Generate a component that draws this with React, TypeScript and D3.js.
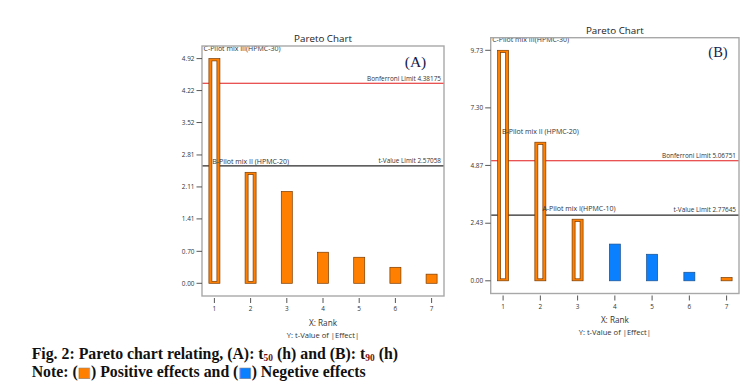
import React from "react";
import * as d3 from "d3";

const ranks = [1, 2, 3, 4, 5, 6, 7];

// (A) t50
const tValuesA = [4.92, 2.43, 2.01, 0.68, 0.57, 0.35, 0.2];
const signsA = ["+", "+", "+", "+", "+", "+", "+"];
const termLabelsA = ["C-Pilot mix III(HPMC-30)", "B-Pilot mix II (HPMC-20)", "", "", "", "", ""];
const yTicksA = [0, 0.7, 1.41, 2.11, 2.81, 3.52, 4.22, 4.92];
const bonferroniA = 4.38175;
const tLimitA = 2.57058;

// (B) t90
const tValuesB = [9.73, 5.85, 2.6, 1.55, 1.12, 0.36, 0.14];
const signsB = ["+", "+", "+", "-", "-", "-", "+"];
const termLabelsB = ["C-Pilot mix III(HPMC-30)", "B-Pilot mix II (HPMC-20)", "A-Pilot mix I(HPMC-10)", "", "", "", ""];
const yTicksB = [0, 2.43, 4.87, 7.3, 9.73];
const bonferroniB = 5.06751;
const tLimitB = 2.77645;

const ORANGE = "#ff8000";
const ORANGE_EDGE = "#7a3a00";
const BLUE = "#0a80ff";
const BLUE_EDGE = "#1c4f8c";
const SANS = "'Open Sans', 'Noto Sans', sans-serif";
const SERIF = "'Liberation Serif', 'DejaVu Serif', serif";

interface Frame {
  left: number;
  right: number;
  top: number;
  bottom: number;
}

interface PanelProps {
  frame: Frame;
  values: number[];
  signs: string[];
  labels: string[];
  yTicks: number[];
  bonferroni: number;
  tLimit: number;
  tag: string;
  tagSize: number;
  tagX: number;
  tagY: number;
}

const Pareto: React.FC<PanelProps> = ({
  frame,
  values,
  signs,
  labels,
  yTicks,
  bonferroni,
  tLimit,
  tag,
  tagSize,
  tagX,
  tagY,
}) => {
  const { left, right, top, bottom } = frame;
  const x = d3.scaleLinear().domain([1, 7]).range([left + 12.4, right - 12.4]);
  const y = d3
    .scaleLinear()
    .domain([0, d3.max(yTicks) ?? 1])
    .range([bottom - 12.7, top + 12.6]);
  const barW = 11;
  const cx = (left + right) / 2;

  return (
    <g>
      <text x={cx} y={top - 3.8} textAnchor="middle" fontSize={9.8} fill="#222" fontFamily={SANS}>
        Pareto Chart
      </text>

      {/* limit lines */}
      <line x1={left} x2={right} y1={y(bonferroni)} y2={y(bonferroni)} stroke="#e31a1a" strokeWidth={1.1} />
      <text x={right - 3} y={y(bonferroni) - 2.6} textAnchor="end" fontSize={6.4} fill="#333" fontFamily={SANS}>
        {`Bonferroni Limit ${bonferroni}`}
      </text>
      <line x1={left} x2={right} y1={y(tLimit)} y2={y(tLimit)} stroke="#2a2a2a" strokeWidth={1.2} />
      <text x={right - 3} y={y(tLimit) - 2.6} textAnchor="end" fontSize={6.4} fill="#333" fontFamily={SANS}>
        {`t-Value Limit ${tLimit}`}
      </text>

      {/* bars: terms kept in the model are drawn hollow */}
      {ranks.map((r, i) => {
        const v = values[i];
        const bx = x(r) - barW / 2;
        const by = y(v);
        const h = y(0) - by;
        const inModel = labels[i] !== "";
        const fill = signs[i] === "+" ? ORANGE : BLUE;
        const edge = signs[i] === "+" ? ORANGE_EDGE : BLUE_EDGE;
        return (
          <g key={`bar-${r}`}>
            <rect x={bx} y={by} width={barW} height={h} fill={fill} stroke={edge} strokeWidth={0.7} />
            {inModel && (
              <rect
                x={bx + 3}
                y={by + 2.3}
                width={barW - 6}
                height={h - 4.3}
                fill="#fff"
                stroke={edge}
                strokeWidth={0.7}
              />
            )}
          </g>
        );
      })}

      {/* term labels */}
      {ranks.map((r, i) => {
        const lbl = labels[i];
        if (!lbl) return null;
        const w = lbl.length * 3.2;
        const lx = Math.max(left + 1.5, x(r) - w / 2);
        return (
          <text key={`lbl-${r}`} x={lx} y={y(values[i]) - 8} fontSize={7} fill="#333" fontFamily={SANS}>
            {lbl}
          </text>
        );
      })}

      {/* frame */}
      <rect
        x={left}
        y={top}
        width={right - left}
        height={bottom - top}
        fill="none"
        stroke="#a8a8a8"
        strokeWidth={1.4}
      />

      {/* y axis */}
      {yTicks.map((t) => (
        <g key={`yt-${t}`}>
          <line x1={left - 5.5} x2={left} y1={y(t)} y2={y(t)} stroke="#444" strokeWidth={0.9} />
          <text
            x={left - 7.5}
            y={y(t) + 2.2}
            textAnchor="end"
            fontSize={6.4}
            fill="#333"
            fontFamily={SANS}
          >
            {t.toFixed(2)}
          </text>
        </g>
      ))}

      {/* x axis */}
      {ranks.map((r) => (
        <g key={`xt-${r}`}>
          <line x1={x(r)} x2={x(r)} y1={bottom + 2} y2={bottom + 7} stroke="#444" strokeWidth={0.9} />
          <text x={x(r)} y={bottom + 15} textAnchor="middle" fontSize={6.4} fill="#333" fontFamily={SANS}>
            {r}
          </text>
        </g>
      ))}
      <text x={cx} y={bottom + 29.5} textAnchor="middle" fontSize={8.2} fill="#333" fontFamily={SANS}>
        X: Rank
      </text>
      <text x={cx} y={bottom + 41.5} textAnchor="middle" fontSize={7.6} fill="#333" fontFamily={SANS}>
        Y: t-Value of |Effect|
      </text>

      <text x={tagX} y={tagY} textAnchor="middle" fontSize={tagSize} fill="#14204a" fontFamily={SERIF}>
        {tag}
      </text>
    </g>
  );
};

const App: React.FC = () => {
  const width = 753;
  const height = 389;
  return (
    <svg
      width={width}
      height={height}
      style={{ position: "absolute", left: 0, top: 0, background: "#fff" }}
    >
      <rect width={width} height={height} fill="#fff" />
      <Pareto
        frame={{ left: 202, right: 444, top: 46, bottom: 296 }}
        values={tValuesA}
        signs={signsA}
        labels={termLabelsA}
        yTicks={yTicksA}
        bonferroni={bonferroniA}
        tLimit={tLimitA}
        tag="(A)"
        tagSize={15.5}
        tagX={415.5}
        tagY={66.5}
      />
      <Pareto
        frame={{ left: 490.7, right: 739, top: 37.7, bottom: 293.5 }}
        values={tValuesB}
        signs={signsB}
        labels={termLabelsB}
        yTicks={yTicksB}
        bonferroni={bonferroniB}
        tLimit={tLimitB}
        tag="(B)"
        tagSize={14.5}
        tagX={718}
        tagY={57}
      />

      <text x={31.7} y={359} fontSize={15.8} fontWeight="bold" fill="#111" fontFamily={SERIF}>
        Fig. 2: Pareto chart relating, (A): t
        <tspan fontSize={9.5} dy={2.4} fill="#7a1010">50</tspan>
        <tspan dy={-2.4}> (h) and (B): t</tspan>
        <tspan fontSize={9.5} dy={2.4} fill="#7a1010">90</tspan>
        <tspan dy={-2.4}> (h)</tspan>
      </text>
      <text x={31.7} y={377} fontSize={15.8} fontWeight="bold" fill="#111" fontFamily={SERIF}>
        Note: (
        <tspan fill={ORANGE} stroke="#888" strokeWidth={0.6} fontSize={14} fontFamily="'DejaVu Sans'">■</tspan>
        ) Positive effects and (
        <tspan fill={BLUE} stroke="#888" strokeWidth={0.6} fontSize={14} fontFamily="'DejaVu Sans'">■</tspan>
        ) Negetive effects
      </text>
    </svg>
  );
};

export default App;
